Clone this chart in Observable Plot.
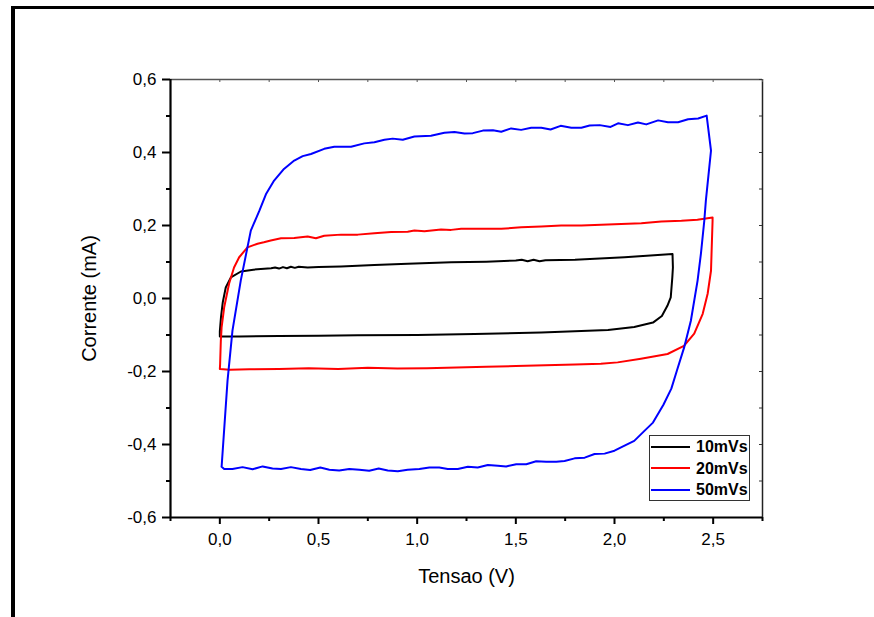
<!DOCTYPE html>
<html>
<head>
<meta charset="utf-8">
<script src="https://cdn.jsdelivr.net/npm/d3@7"></script>
<script src="https://cdn.jsdelivr.net/npm/@observablehq/plot@0.6"></script>
<style>
  body { margin: 0; background: #fff; }
  #wrap { position: relative; width: 874px; height: 617px; overflow: hidden; font-family: "Liberation Sans", Arial, sans-serif; }
  #wrap svg { position: absolute; left: 0; top: 0; }
  #border { position: absolute; left: 11px; top: 6px; right: -20px; bottom: -20px; border-left: 4px solid #000; border-top: 3px solid #000; pointer-events: none; }
  #legend { position: absolute; left: 649px; top: 435px; width: 99px; height: 64px; border: 1px solid #333; background: #fff; }
  .row { height: 21.5px; line-height: 21.5px; white-space: nowrap; font-weight: bold; font-size: 16px; color: #000; }
  .sw { display: inline-block; width: 39px; height: 2px; vertical-align: middle; margin-left: 1px; margin-right: 6px; position: relative; top: -1px; }
</style>
</head>
<body>
<div id="wrap">
  <div id="chart"></div>
  <div id="legend"></div>
  <div id="border"></div>
</div>
<script>
// ---- data ----
const seriesNames = ["10mVs", "20mVs", "50mVs"];
const seriesColors = ["#000000", "#ff0000", "#0000ff"];

const v10 = [0.0, 0.0, 0.006, 0.015, 0.03, 0.056, 0.107, 0.17, 0.208, 0.26, 0.28, 0.30, 0.32, 0.34, 0.36, 0.38, 0.40, 0.445, 0.5, 0.614, 0.783, 0.952, 1.172, 1.35, 1.5, 1.53, 1.56, 1.59, 1.62, 1.65, 1.8, 2.051, 2.294, 2.296, 2.293, 2.285, 2.268, 2.24, 2.195, 2.1, 1.967, 1.629, 1.29, 1.0, 0.7, 0.5, 0.3, 0.1, 0.0];
const i10 = [-0.104, -0.09, -0.05, -0.01, 0.03, 0.058, 0.074, 0.079, 0.081, 0.083, 0.085, 0.082, 0.086, 0.083, 0.087, 0.084, 0.087, 0.085, 0.086, 0.088, 0.092, 0.095, 0.099, 0.101, 0.104, 0.106, 0.102, 0.106, 0.102, 0.105, 0.106, 0.113, 0.122, 0.085, 0.058, 0.003, -0.02, -0.048, -0.066, -0.078, -0.086, -0.093, -0.097, -0.100, -0.101, -0.102, -0.103, -0.104, -0.104];

const v20 = [0.0, 0.0015, 0.005, 0.009, 0.022, 0.047, 0.072, 0.098, 0.14, 0.191, 0.223, 0.258, 0.31, 0.377, 0.41, 0.445, 0.487, 0.529, 0.614, 0.699, 0.783, 0.868, 0.952, 0.986, 1.037, 1.121, 1.172, 1.223, 1.324, 1.426, 1.527, 1.629, 1.73, 1.832, 1.933, 2.034, 2.136, 2.237, 2.339, 2.42, 2.497, 2.497, 2.489, 2.472, 2.447, 2.404, 2.352, 2.269, 2.134, 2.016, 1.931, 1.8, 1.65, 1.5, 1.35, 1.2, 1.05, 0.9, 0.75, 0.6, 0.45, 0.3, 0.15, 0.05, 0.0];
const i20 = [-0.193, -0.179, -0.116, -0.079, -0.024, 0.041, 0.085, 0.113, 0.140, 0.150, 0.154, 0.159, 0.165, 0.166, 0.168, 0.170, 0.165, 0.172, 0.175, 0.175, 0.179, 0.182, 0.183, 0.186, 0.184, 0.189, 0.188, 0.191, 0.191, 0.191, 0.195, 0.197, 0.200, 0.200, 0.202, 0.204, 0.206, 0.211, 0.213, 0.216, 0.222, 0.213, 0.076, 0.013, -0.042, -0.096, -0.130, -0.152, -0.165, -0.175, -0.179, -0.181, -0.183, -0.185, -0.187, -0.189, -0.191, -0.192, -0.190, -0.193, -0.191, -0.193, -0.194, -0.195, -0.193];

const v50 = [0.009, 0.039, 0.064, 0.106, 0.157, 0.2, 0.235, 0.275, 0.325, 0.377, 0.42, 0.462, 0.529, 0.58, 0.665, 0.732, 0.783, 0.834, 0.876, 0.927, 0.986, 1.07, 1.138, 1.189, 1.24, 1.282, 1.333, 1.384, 1.426, 1.476, 1.527, 1.578, 1.629, 1.676, 1.727, 1.781, 1.832, 1.874, 1.925, 1.98, 2.018, 2.068, 2.119, 2.161, 2.221, 2.271, 2.322, 2.373, 2.424, 2.467,
  2.489, 2.463, 2.455, 2.438, 2.421, 2.387, 2.353, 2.316, 2.288, 2.248, 2.195, 2.153, 2.1,
  2.051, 2.0, 1.95, 1.899, 1.849, 1.798, 1.747, 1.705, 1.654, 1.603, 1.553, 1.502, 1.451, 1.409, 1.358, 1.307, 1.257, 1.206, 1.155, 1.112, 1.062, 1.011, 0.952, 0.902, 0.851, 0.805, 0.757, 0.707, 0.656, 0.605, 0.555, 0.509, 0.458, 0.411, 0.36, 0.31, 0.267, 0.217, 0.166, 0.115, 0.064, 0.022, 0.009];
const i50 = [-0.461, -0.225, -0.088, 0.049, 0.186, 0.240, 0.287, 0.323, 0.355, 0.378, 0.390, 0.396, 0.410, 0.416, 0.416, 0.425, 0.428, 0.435, 0.438, 0.435, 0.444, 0.446, 0.454, 0.456, 0.452, 0.453, 0.460, 0.461, 0.457, 0.466, 0.462, 0.468, 0.468, 0.463, 0.473, 0.468, 0.468, 0.474, 0.475, 0.470, 0.480, 0.475, 0.482, 0.477, 0.488, 0.483, 0.483, 0.491, 0.493, 0.501,
  0.405, 0.268, 0.213, 0.123, 0.049, -0.061, -0.134, -0.198, -0.247, -0.291, -0.340, -0.362, -0.390,
  -0.403, -0.417, -0.425, -0.426, -0.436, -0.438, -0.445, -0.447, -0.447, -0.446, -0.454, -0.454, -0.460, -0.458, -0.456, -0.463, -0.461, -0.467, -0.467, -0.463, -0.463, -0.467, -0.469, -0.473, -0.471, -0.466, -0.472, -0.469, -0.467, -0.471, -0.469, -0.463, -0.470, -0.467, -0.462, -0.467, -0.466, -0.460, -0.468, -0.462, -0.467, -0.467, -0.461];

const xMajor = [0, 0.5, 1, 1.5, 2, 2.5];
const xMinor = [-0.25, 0.25, 0.75, 1.25, 1.75, 2.25, 2.75];
const yMajor = [-0.6, -0.4, -0.2, 0, 0.2, 0.4, 0.6];
const yMinor = [-0.5, -0.3, -0.1, 0.1, 0.3, 0.5];
const xDomain = [-0.25, 2.75];
const yDomain = [-0.6, 0.6];
const xLabel = "Tensao (V)";
const yLabel = "Corrente (mA)";

// ---- build ----
const fmt = d => (Math.abs(d) < 1e-9 ? 0 : d).toFixed(1).replace(".", ",");
const toRows = (vs, is) => vs.map((v, k) => ({v, i: is[k]}));
const series = [toRows(v10, i10), toRows(v20, i20), toRows(v50, i50)];

const chart = Plot.plot({
  width: 874,
  height: 617,
  marginLeft: 170,
  marginRight: 112,
  marginTop: 79,
  marginBottom: 100,
  style: {fontFamily: '"Liberation Sans", Arial, sans-serif', background: "transparent", color: "#000", overflow: "visible"},
  x: {domain: xDomain, label: null},
  y: {domain: yDomain, label: null},
  marks: [
    // top & right frame lines with small inward ticks
    Plot.ruleY([yDomain[1]], {stroke: "#555", strokeWidth: 1.3}),
    Plot.ruleX([xDomain[1]], {stroke: "#222", strokeWidth: 1.5}),
    Plot.ruleX([...xMajor, ...xMinor], {stroke: "#555", strokeWidth: 1, insetBottom: 435}),
    Plot.ruleY([...yMajor, ...yMinor], {stroke: "#333", strokeWidth: 1, insetLeft: 589}),
    // data
    ...series.map((rows, k) => Plot.line(rows, {x: "v", y: "i", stroke: seriesColors[k], strokeWidth: 2, strokeLinejoin: "round"})),
    // bottom axis
    Plot.axisX({anchor: "bottom", ticks: xMajor, tickSize: 7, tickPadding: 8, tickFormat: fmt, fontSize: 17, strokeWidth: 2, label: null}),
    Plot.axisX({anchor: "bottom", ticks: xMinor, tickSize: 4, tickFormat: () => "", strokeWidth: 2, label: null}),
    Plot.axisX({anchor: "bottom", ticks: [], label: xLabel, labelAnchor: "center", labelArrow: "none", labelOffset: 65, fontSize: 20}),
    // left axis
    Plot.axisY({anchor: "left", ticks: yMajor, tickSize: 8, tickPadding: 6, tickFormat: fmt, fontSize: 17, strokeWidth: 2, label: null}),
    Plot.axisY({anchor: "left", ticks: yMinor, tickSize: 4, tickFormat: () => "", strokeWidth: 2, label: null}),
    Plot.axisY({anchor: "left", ticks: [], label: yLabel, labelAnchor: "center", labelArrow: "none", labelOffset: 89, fontSize: 20}),
    Plot.ruleX([xDomain[0]], {stroke: "#000", strokeWidth: 2.2}),
    Plot.ruleY([yDomain[0]], {stroke: "#000", strokeWidth: 2.2})
  ]
});
document.getElementById("chart").appendChild(chart);

// legend
const legend = document.getElementById("legend");
seriesNames.forEach((name, k) => {
  const row = document.createElement("div");
  row.className = "row";
  const sw = document.createElement("span");
  sw.className = "sw";
  sw.style.background = seriesColors[k];
  row.appendChild(sw);
  row.appendChild(document.createTextNode(name));
  legend.appendChild(row);
});
</script>
</body>
</html>
